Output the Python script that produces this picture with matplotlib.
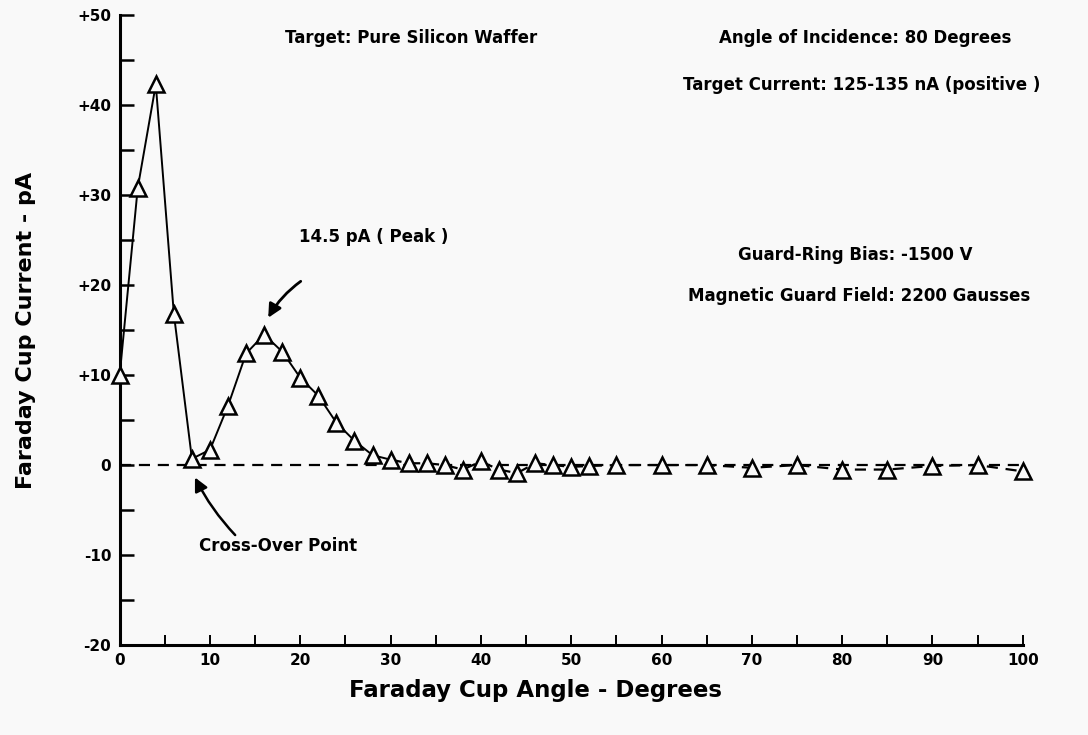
import numpy as np
import matplotlib
matplotlib.use("Agg")
import matplotlib.pyplot as plt

# Faraday cup angle (degrees) and current (pA)
angle = [0, 2, 4, 6, 8, 10, 12, 14, 16, 18, 20, 22, 24, 26, 28, 30,
         32, 34, 36, 38, 40, 42, 44, 46, 48, 50, 52, 55, 60, 65, 70,
         75, 80, 85, 90, 95, 100]
current = [10.0, 30.8, 42.3, 16.8, 0.7, 1.7, 6.6, 12.4, 14.5, 12.6, 9.7, 7.7,
           4.7, 2.7, 1.1, 0.6,
           0.2, 0.2, 0.0, -0.5, 0.4, -0.5, -0.9, 0.2, 0.0, -0.2, -0.1, 0.0,
           0.0, 0.0, -0.3, 0.0, -0.5, -0.5, -0.1, 0.0, -0.7]
n_solid = 16  # points joined by the solid curve (0..30 deg)

ytick_vals = [-20, -10, 0, 10, 20, 30, 40, 50]
ytick_labels = ['-20', '-10', '0', '+10', '+20', '+30', '+40', '+50']
xtick_vals = [0, 10, 20, 30, 40, 50, 60, 70, 80, 90, 100]

bg = '#f9f9f9'
fig = plt.figure(figsize=(10.88, 7.35), dpi=100)
fig.patch.set_facecolor(bg)
ax = fig.add_axes([0.110, 0.1224, 0.830, 0.857])
ax.set_facecolor(bg)

dash = (0, (5, 3.5))
# dashed zero line and dashed tail
ax.axhline(0, color='k', lw=1.6, ls=dash, zorder=1)
ax.plot(angle[n_solid - 1:], current[n_solid - 1:], color='k', lw=1.6,
        ls=dash, zorder=1)
# solid hand-drawn curve
ax.plot(angle[:n_solid], current[:n_solid], color='k', lw=1.4, zorder=2)
# open triangle markers
ax.plot(angle, current, ls='none', marker='^', ms=12, mfc=bg, mec='k',
        mew=1.8, zorder=3, clip_on=False)

ax.set_xlim(0, 100)
ax.set_ylim(-20, 50)
for s in ['top', 'right']:
    ax.spines[s].set_visible(False)
for s in ['left', 'bottom']:
    ax.spines[s].set_linewidth(2.2)

ax.set_yticks(ytick_vals)
ax.set_yticklabels(ytick_labels)
ax.set_yticks(np.arange(-15, 50, 10), minor=True)
ax.set_xticks(xtick_vals)
ax.set_xticks(np.arange(5, 100, 10), minor=True)
ax.tick_params(axis='y', which='both', direction='in', length=10, width=1.8,
               labelsize=11, pad=6)
ax.tick_params(axis='x', which='both', direction='in', length=7, width=1.4,
               labelsize=11, pad=6)
for lab in ax.get_xticklabels() + ax.get_yticklabels():
    lab.set_fontweight('bold')

ax.set_ylabel('Faraday Cup Current - pA', fontsize=16, fontweight='bold',
              labelpad=30)
fig.text(0.492, 0.061, 'Faraday Cup Angle - Degrees', fontsize=16.5,
         fontweight='bold', ha='center', va='center')

tkw = dict(fontsize=12, fontweight='bold', ha='center', va='center')
ax.text(32.3, 47.5, 'Target: Pure Silicon Waffer', **tkw)
ax.text(82.6, 47.5, 'Angle of Incidence: 80 Degrees', **tkw)
ax.text(82.2, 42.2, 'Target Current: 125-135 nA (positive )', **tkw)
ax.text(81.4, 23.4, 'Guard-Ring Bias: -1500 V', **tkw)
ax.text(81.9, 18.8, 'Magnetic Guard Field: 2200 Gausses', **tkw)

# peak annotation
ipk = int(np.argmax(current[5:])) + 5
ax.text(19.9, 25.4, '%.1f pA ( Peak )' % current[ipk], fontsize=12,
        fontweight='bold', ha='left', va='center')
ax.annotate('', xy=(angle[ipk] + 0.3, current[ipk] + 1.6), xytext=(20.3, 20.6),
            arrowprops=dict(arrowstyle='-|>,head_length=0.8,head_width=0.4',
                            connectionstyle='arc3,rad=0.12', lw=2, color='k'))

# cross-over annotation
ax.text(17.5, -9.0, 'Cross-Over Point', fontsize=12, fontweight='bold',
        ha='center', va='center')
ax.annotate('', xy=(angle[4] + 0.2, -1.1), xytext=(13.0, -8.0),
            arrowprops=dict(arrowstyle='-|>,head_length=0.8,head_width=0.4',
                            connectionstyle='arc3,rad=-0.08', lw=1.8, color='k'))

fig.savefig('out.png', dpi=100, facecolor=bg)
